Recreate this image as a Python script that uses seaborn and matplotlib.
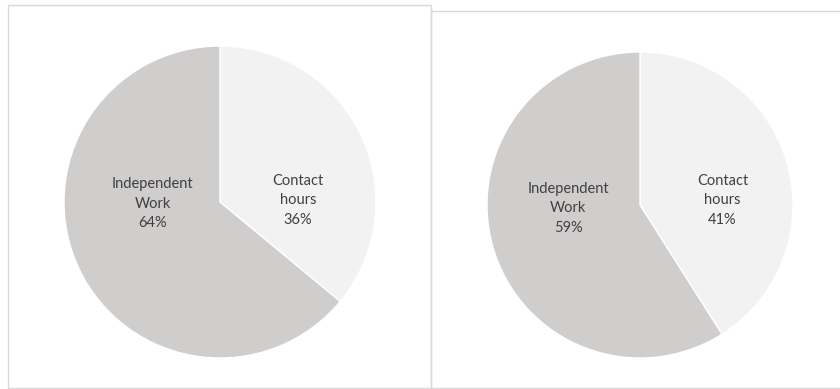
import matplotlib
matplotlib.use("Agg")
import matplotlib.pyplot as plt
import seaborn as sns
from matplotlib.patches import Rectangle

# Share of study time, two programmes
categories = ["Contact\nhours", "Independent\nWork"]
left_values = [36, 64]
right_values = [41, 59]

slice_colors = ["#f2f2f2", "#d0cdcd"]
text_color = "#404040"

sns.set_theme(style="white")
plt.rcParams["font.family"] = ["Lato", "DejaVu Sans"]

W, H = 840, 389
fig = plt.figure(figsize=(W / 100, H / 100), dpi=100)
fig.patch.set_facecolor("white")

# Frames around each chart (pixel boxes: x0, y0_top, x1, y1_bottom)
for x0, y0, x1, y1 in [(8, 5, 431, 388), (431, 11, 845, 388)]:
    fig.add_artist(Rectangle((x0 / W, 1 - y1 / H), (x1 - x0) / W, (y1 - y0) / H,
                             transform=fig.transFigure, fill=False,
                             edgecolor="#d9d9d9", linewidth=1.0))

# Pie placement (center x, center y, radius in pixels) and label offsets
layouts = [
    ((220, 202, 156), [(0.50, 0.01), (-0.43, -0.01)]),
    ((640, 205, 153), [(0.54, 0.03), (-0.47, -0.02)]),
]

for values, ((cx, cy, r), label_pos) in zip([left_values, right_values], layouts):
    ax = fig.add_axes([(cx - r) / W, (H - cy - r) / H, 2 * r / W, 2 * r / H])
    ax.pie(values, colors=slice_colors, startangle=90, counterclock=False,
           radius=1.0, wedgeprops=dict(linewidth=1.0, edgecolor="white"))
    ax.set_xlim(-1.0, 1.0)
    ax.set_ylim(-1.0, 1.0)
    ax.set_aspect("equal")
    ax.axis("off")
    total = sum(values)
    for cat, v, (lx, ly) in zip(categories, values, label_pos):
        ax.text(lx, ly, f"{cat}\n{round(100 * v / total)}%", ha="center", va="center",
                fontsize=10.5, color=text_color, linespacing=1.5)

fig.savefig("out.png", dpi=100, facecolor="white")
